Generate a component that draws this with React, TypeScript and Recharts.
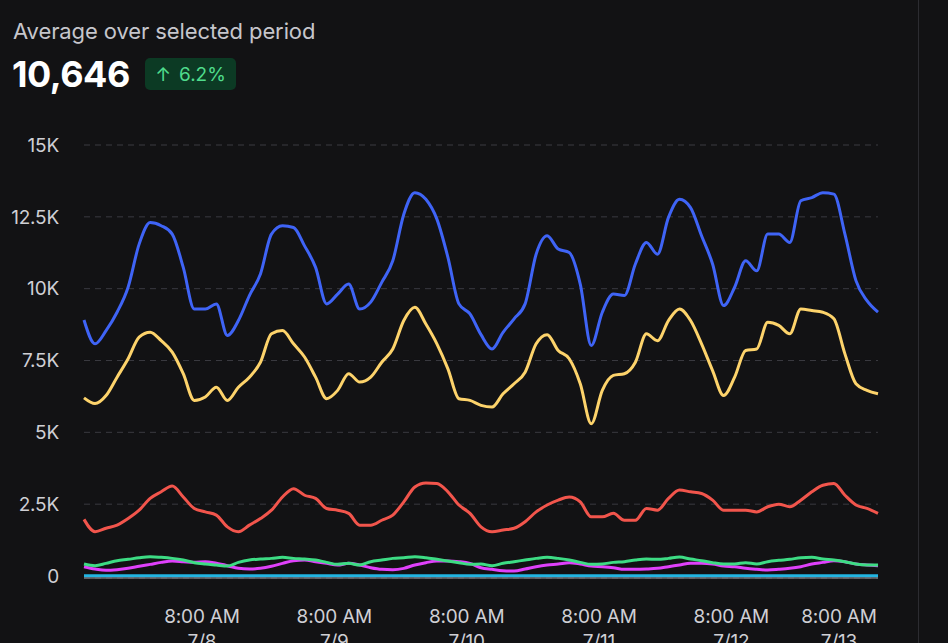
import React from "react";
import { LineChart, Line, XAxis, YAxis, CartesianGrid } from "recharts";

// hours since start of the window (about 10:30 AM 7/7), one sample every 2 hours
const hours = Array.from({ length: 73 }, (_, i) => i * 2);

const blueSeries = [
  8910, 8080, 8540, 9180, 10050, 11550, 12300, 12190, 11900, 10740, 9290, 9290, 9470,
  8370, 8890, 9760, 10510, 11900, 12190, 12130, 11490, 10740, 9470, 9810, 10160, 9290,
  9530, 10220, 10970, 12590, 13340, 13110, 12420, 11090, 9470, 9120, 8400, 7900, 8480,
  8950, 9470, 11200, 11840, 11380, 11260, 10160, 8020, 9180, 9810, 9760, 10860, 11610,
  11200, 12480, 13110, 12820, 11840, 10860, 9410, 10050, 10970, 10620, 11900, 11900,
  11610, 13060, 13170, 13340, 13290, 11900, 10280, 9580, 9180,
];
const yellowSeries = [
  6200, 6000, 6280, 6920, 7560, 8310, 8480, 8190, 7790, 7040, 6110, 6230, 6570, 6110,
  6570, 6920, 7440, 8430, 8540, 8080, 7620, 6920, 6170, 6460, 7040, 6750, 6920, 7440,
  7900, 8890, 9350, 8770, 8080, 7210, 6170, 6110, 5940, 5880, 6340, 6690, 7090, 8080,
  8400, 7850, 7560, 6690, 5300, 6460, 6980, 7040, 7440, 8430, 8190, 8890, 9290, 8890,
  8080, 7150, 6280, 6920, 7850, 7900, 8830, 8720, 8430, 9290, 9240, 9180, 8950, 7730,
  6690, 6460, 6340,
];
const redSeries = [
  1970, 1540, 1660, 1770, 2000, 2290, 2700, 2930, 3130, 2750, 2350, 2230, 2120, 1710,
  1540, 1770, 2000, 2290, 2750, 3040, 2810, 2700, 2350, 2290, 2180, 1770, 1770, 1940,
  2120, 2580, 3100, 3240, 3220, 2930, 2470, 2180, 1710, 1540, 1600, 1660, 1890, 2230,
  2470, 2640, 2750, 2580, 2060, 2060, 2180, 1940, 1940, 2350, 2290, 2700, 2990, 2930,
  2870, 2640, 2290, 2290, 2290, 2230, 2410, 2500, 2410, 2640, 2930, 3160, 3220, 2810,
  2470, 2350, 2180,
];
const greenSeries = [
  417, 359, 440, 532, 579, 636, 671, 648, 613, 555, 463, 417, 382, 347, 474, 555, 590,
  613, 648, 613, 590, 555, 474, 405, 440, 382, 498, 555, 613, 636, 671, 636, 579, 521,
  463, 405, 417, 359, 440, 498, 555, 613, 648, 613, 555, 474, 405, 417, 474, 498, 555,
  590, 579, 613, 660, 590, 532, 463, 417, 417, 463, 417, 498, 544, 579, 636, 648, 590,
  555, 498, 417, 382, 382,
];
const magentaSeries = [
  324, 243, 197, 220, 266, 336, 405, 474, 521, 498, 474, 498, 440, 359, 266, 243, 266,
  336, 440, 532, 555, 498, 440, 382, 440, 382, 289, 232, 220, 266, 382, 463, 521, 521,
  498, 440, 289, 232, 185, 174, 243, 324, 382, 417, 463, 417, 347, 324, 289, 232, 232,
  243, 266, 324, 382, 440, 440, 417, 347, 324, 266, 232, 208, 232, 266, 324, 417, 474,
  532, 498, 417, 382, 359,
];
const cyanSeries = [
  8, 8, 8, 8, 8, 8, 8, 8, 8, 8, 8, 8, 8, 8, 8, 8, 8, 8, 8, 8, 8, 8, 8, 8, 8, 8, 8, 8,
  8, 8, 8, 8, 8, 8, 8, 8, 8, 8, 8, 8, 8, 8, 8, 8, 8, 8, 8, 8, 8, 8, 8, 8, 8, 8, 8, 8,
  8, 8, 8, 8, 8, 8, 8, 8, 8, 8, 8, 8, 8, 8, 8, 8, 8,
];

const yTicks = [0, 2500, 5000, 7500, 10000, 12500, 15000];
const xTicks = [21.4, 45.4, 69.4, 93.4, 117.4, 141.4];
const tickTimes = ["8:00 AM", "8:00 AM", "8:00 AM", "8:00 AM", "8:00 AM", "8:00 AM"];
const tickDates = ["7/8", "7/9", "7/10", "7/11", "7/12", "7/13"];

const data = hours.map((h, i) => ({
  h,
  blue: blueSeries[i],
  yellow: yellowSeries[i],
  red: redSeries[i],
  green: greenSeries[i],
  magenta: magentaSeries[i],
  cyan: cyanSeries[i],
}));

const FONT = "Inter, 'Noto Sans', sans-serif";
const PLOT_RIGHT = 878;

function DateTick(props: any) {
  const { x, y, index } = props;
  // keep the last label inside the plot area
  const cx = Math.min(x, PLOT_RIGHT - 39);
  return (
    <g fill="#cfcfd4" fontSize={19} fontFamily={FONT} letterSpacing={-0.2}>
      <text x={cx} y={y + 43} textAnchor="middle">
        {tickTimes[index]}
      </text>
      <text x={cx} y={y + 68} textAnchor="middle">
        {tickDates[index]}
      </text>
    </g>
  );
}

export default function App() {
  return (
    <div
      style={{
        position: "absolute",
        left: 0,
        top: 0,
        width: 948,
        height: 643,
        background: "#121214",
        overflow: "hidden",
        fontFamily: FONT,
      }}
    >
      <div
        style={{
          position: "absolute",
          left: 13,
          top: 18,
          fontSize: 22,
          color: "#c6c6cc",
          letterSpacing: -0.1,
        }}
      >
        Average over selected period
      </div>
      <div
        style={{
          position: "absolute",
          left: 12,
          top: 52,
          fontSize: 36,
          fontWeight: 700,
          color: "#ffffff",
          letterSpacing: -0.5,
        }}
      >
        10,646
      </div>
      <div
        style={{
          position: "absolute",
          left: 145,
          top: 58,
          width: 91,
          height: 32,
          borderRadius: 5,
          background: "#0c3a24",
          color: "#4fdc8c",
          fontSize: 19,
          display: "flex",
          alignItems: "center",
          justifyContent: "center",
          gap: 8,
        }}
      >
        <span>↑</span>
        <span>6.2%</span>
      </div>
      <div
        style={{
          position: "absolute",
          left: 918,
          top: 0,
          width: 1,
          height: 643,
          background: "#2c2c31",
        }}
      />
      <div style={{ position: "absolute", left: 0, top: 0 }}>
        <LineChart
          width={948}
          height={643}
          data={data}
          margin={{ top: 145, right: 70, left: 0, bottom: 0 }}
        >
          <CartesianGrid vertical={false} stroke="#3a3a40" strokeDasharray="6 5" />
          <XAxis
            dataKey="h"
            type="number"
            domain={[0, 144]}
            ticks={xTicks}
            height={65}
            tickSize={0}
            tickLine={false}
            axisLine={{ stroke: "#9a9aa0", strokeWidth: 1 }}
            tick={<DateTick />}
            interval={0}
          />
          <YAxis
            width={84}
            domain={[-70, 15000]}
            ticks={yTicks}
            tickSize={0}
            tickMargin={25}
            tickLine={false}
            axisLine={false}
            allowDataOverflow
            tickFormatter={(v: number) => (v === 0 ? "0" : `${v / 1000}K`)}
            tick={{ fill: "#cfcfd4", fontSize: 19, fontFamily: FONT, letterSpacing: -0.2 }}
          />
          <Line type="monotone" dataKey="cyan" stroke="#22b5e2" strokeWidth={3} dot={false} isAnimationActive={false} />
          <Line type="monotone" dataKey="magenta" stroke="#e040fb" strokeWidth={3} dot={false} isAnimationActive={false} />
          <Line type="monotone" dataKey="green" stroke="#3ddc84" strokeWidth={3} dot={false} isAnimationActive={false} />
          <Line type="monotone" dataKey="red" stroke="#f2554c" strokeWidth={3} dot={false} isAnimationActive={false} />
          <Line type="monotone" dataKey="yellow" stroke="#fdd36b" strokeWidth={3} dot={false} isAnimationActive={false} />
          <Line type="monotone" dataKey="blue" stroke="#3f64f6" strokeWidth={3} dot={false} isAnimationActive={false} />
        </LineChart>
      </div>
    </div>
  );
}
